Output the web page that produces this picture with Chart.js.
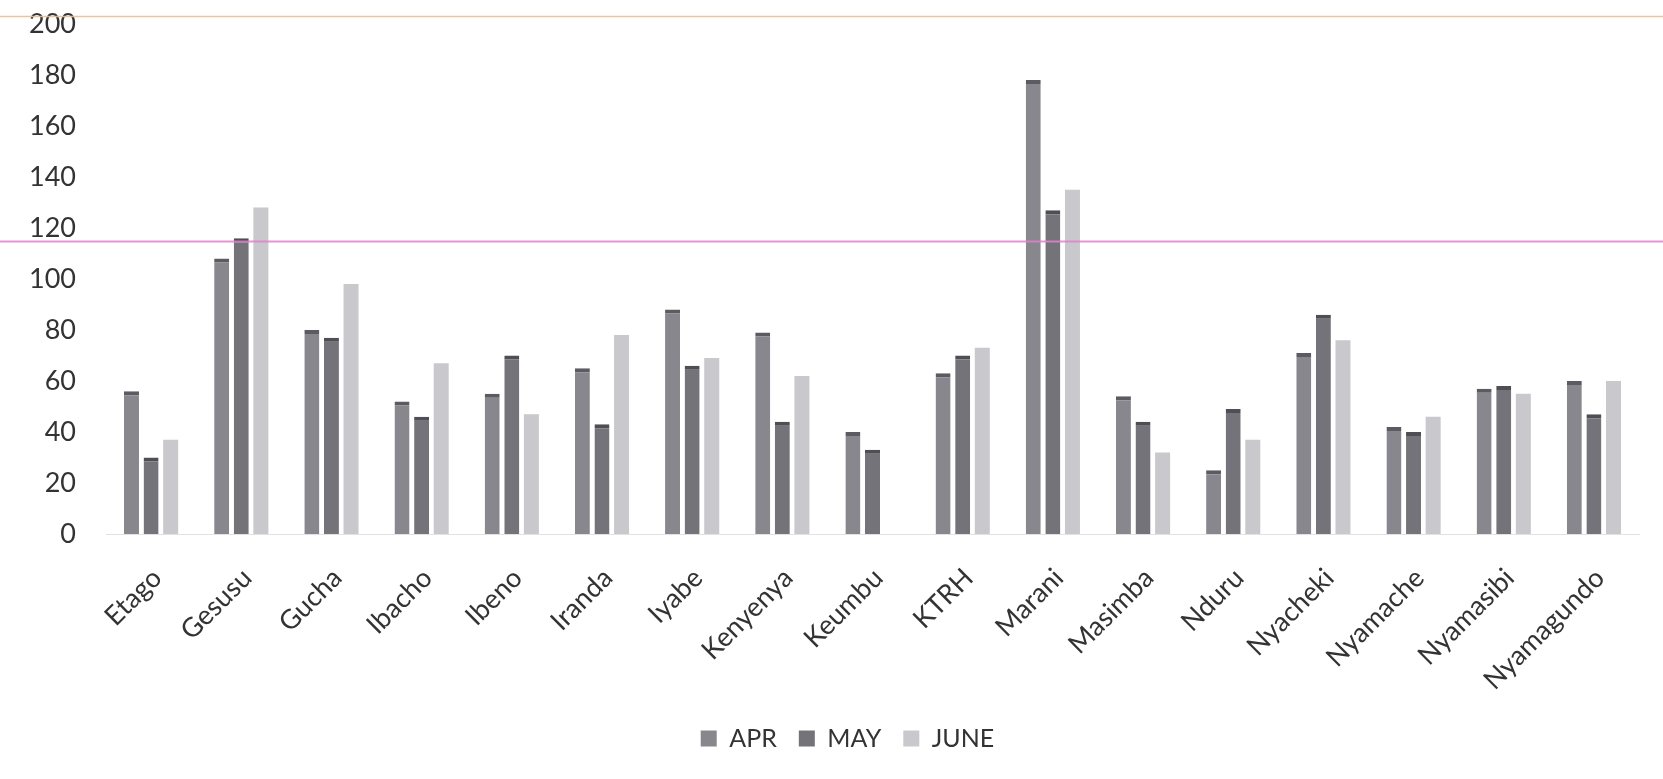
<!DOCTYPE html>
<html>
<head>
<meta charset="utf-8">
<script src="https://cdn.jsdelivr.net/npm/chart.js@4/dist/chart.umd.min.js"></script>
<style>
  html, body { margin: 0; padding: 0; background: #ffffff; }
  #wrap { width: 1663px; height: 779px; position: relative; }
</style>
</head>
<body>
<div id="wrap"><canvas id="barChart"></canvas></div>
<script>
"use strict";

// 施設名
var facilities = ["Etago", "Gesusu", "Gucha", "Ibacho", "Ibeno", "Iranda", "Iyabe", "Kenyenya",
    "Keumbu", "KTRH", "Marani", "Masimba", "Nduru", "Nyacheki", "Nyamache", "Nyamasibi", "Nyamagundo"];

// 月ごとの値
var aprValues  = [56, 108, 80, 52, 55, 65, 88, 79, 40, 63, 178, 54, 25, 71, 42, 57, 60];
var mayValues  = [30, 116, 77, 46, 70, 43, 66, 44, 33, 70, 127, 44, 49, 86, 40, 58, 47];
var juneValues = [37, 128, 98, 67, 47, 78, 69, 62, null, 73, 135, 32, 37, 76, 46, 55, 60];

// y軸の目盛り
var yTicks = [0, 20, 40, 60, 80, 100, 120, 140, 160, 180, 200];

// スキャンで写り込んだ横線
var scanLines = [
    { value: 203, color: "rgba(236, 190, 150, 0.9)", width: 1.5 },
    { value: 115, color: "rgba(222, 130, 205, 0.85)", width: 2 }
];

var scanLinePlugin = {
    id: "scanLines",
    afterDatasetsDraw: function (chart) {
        var c = chart.ctx;
        var y = chart.scales.y;
        c.save();
        scanLines.forEach(function (l) {
            var py = Math.round(y.getPixelForValue(l.value)) + 0.5;
            c.strokeStyle = l.color;
            c.lineWidth = l.width;
            c.beginPath();
            c.moveTo(0, py);
            c.lineTo(chart.width, py);
            c.stroke();
        });
        c.restore();
    }
};

// 凡例を少し右へ
var legendShift = {
    id: "legendShift",
    afterLayout: function (chart) {
        if (chart.legend) {
            chart.legend.left += 28;
            chart.legend.right += 28;
        }
    }
};

var capWidth = { top: 4, left: 0, right: 0, bottom: 0 };

var ctx = document.getElementById("barChart");
var barChart = new Chart(ctx, {
    type: 'bar',
    data: {
        labels: facilities,
        datasets: [{
            label: "APR",
            data: aprValues,
            backgroundColor: "#87878d",
            borderColor: "#5b5b62",
            borderWidth: capWidth,
            borderSkipped: false
        }, {
            label: "MAY",
            data: mayValues,
            backgroundColor: "#737379",
            borderColor: "#4e4e55",
            borderWidth: capWidth,
            borderSkipped: false
        }, {
            label: "JUNE",
            data: juneValues,
            backgroundColor: "#c8c8cd",
            borderColor: "#c8c8cd",
            borderWidth: 0
        }]
    },
    options: {
        responsive: true,
        maintainAspectRatio: false,
        animation: false,
        categoryPercentage: 0.652,
        barPercentage: 0.765,
        layout: {
            padding: { top: 24, right: 24, left: 0, bottom: 18 }
        },
        scales: {
            x: {
                grid: { display: false },
                border: { display: true, color: "#e2e2e2", width: 1 },
                ticks: {
                    minRotation: 45,
                    maxRotation: 45,
                    padding: 20,
                    labelOffset: 6,
                    color: "#333333",
                    font: { family: "Lato", size: 27 }
                },
                afterFit: function (s) { s.height = 170; }
            },
            y: {
                min: 0,
                max: 200,
                grid: { display: false },
                border: { display: false },
                afterBuildTicks: function (s) {
                    s.ticks = yTicks.map(function (v) { return { value: v }; });
                },
                ticks: {
                    padding: 22,
                    color: "#333333",
                    font: { family: "Lato", size: 27 }
                },
                afterFit: function (s) {
                    s.width = 106;
                    s.paddingTop = 0;
                    s.paddingBottom = 0;
                }
            }
        },
        plugins: {
            tooltip: { enabled: false },
            legend: {
                position: 'bottom',
                labels: {
                    boxWidth: 16,
                    boxHeight: 16,
                    padding: 22,
                    color: "#333333",
                    font: { family: "Lato", size: 25 },
                    generateLabels: function (chart) {
                        return chart.data.datasets.map(function (d, i) {
                            return {
                                text: d.label,
                                fillStyle: d.backgroundColor,
                                strokeStyle: d.backgroundColor,
                                lineWidth: 0,
                                fontColor: "#333333",
                                datasetIndex: i
                            };
                        });
                    }
                }
            }
        }
    },
    plugins: [scanLinePlugin, legendShift]
});
</script>
</body>
</html>
